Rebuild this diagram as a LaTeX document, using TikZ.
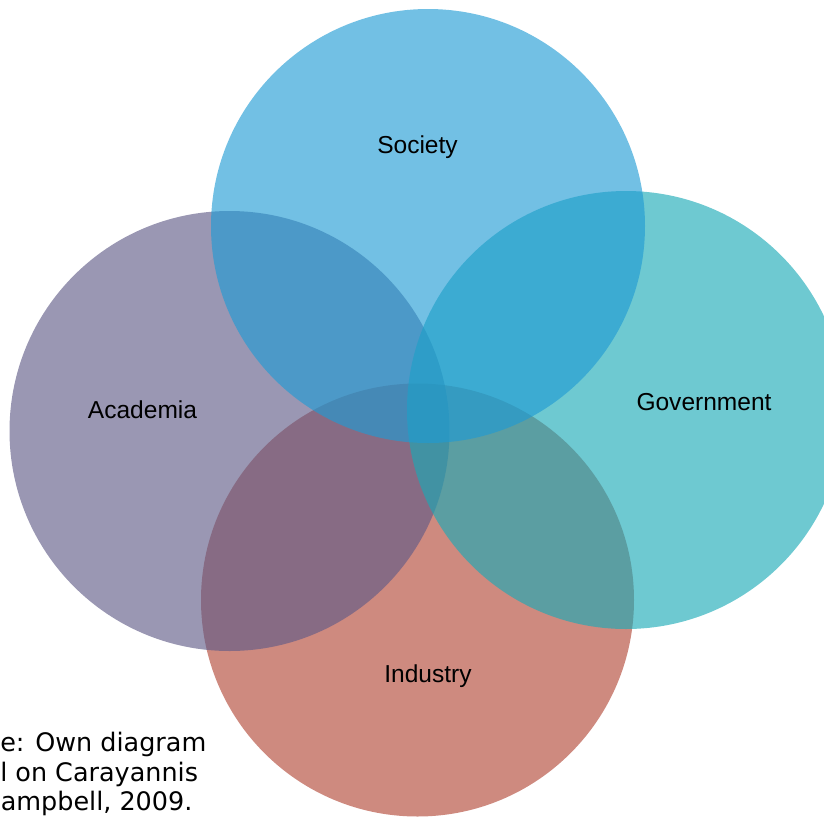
\documentclass[tikz,border=0pt]{standalone}
\usepackage{fontspec}
\setmainfont{Liberation Sans}
\newfontfamily\sourcefont{DejaVu Sans}

\definecolor{societyblue}{RGB}{31,155,212}
\definecolor{academiapurple}{RGB}{95,90,134}
\definecolor{governmentteal}{RGB}{25,169,182}
\definecolor{industryred}{RGB}{177,69,53}

\begin{document}
\begin{tikzpicture}[
            x=0.75bp, y=-0.75bp,
            sphere/.style={fill opacity=0.63},
            sector/.style={anchor=base, inner sep=0pt, font=\fontsize{18.4bp}{22bp}\selectfont},
            note/.style={anchor=base west, inner sep=0pt, font=\sourcefont\fontsize{19.1bp}{23bp}\selectfont}
        ]

        \useasboundingbox (0,0) rectangle (824,817);
        \clip (0,0) rectangle (824,817);

        % Circles, from the lowest to the top one
        \fill[sphere, industryred] (417.5,600) circle (216.5);
        \fill[sphere, academiapurple] (229.5,431) circle (220);
        \fill[sphere, governmentteal] (626,410) circle (219);
        \fill[sphere, societyblue] (428,226) circle (217);

        % Sector names
        \node[sector] (society) at (417.5,153) {Society};
        \node[sector] (academia) at (142.5,418) {Academia};
        \node[sector] (government) at (704,410) {Government};
        \node[sector] (industry) at (428,682) {Industry};

        % Source, as far as it is shown
        \node[note] (sourceone) at (0,751) {e: Own diagram};
        \node[note] (sourcetwo) at (0,781) {l on Carayannis};
        \node[note] (sourcethree) at (0.5,810) {ampbell, 2009.};

    \end{tikzpicture}
\end{document}
